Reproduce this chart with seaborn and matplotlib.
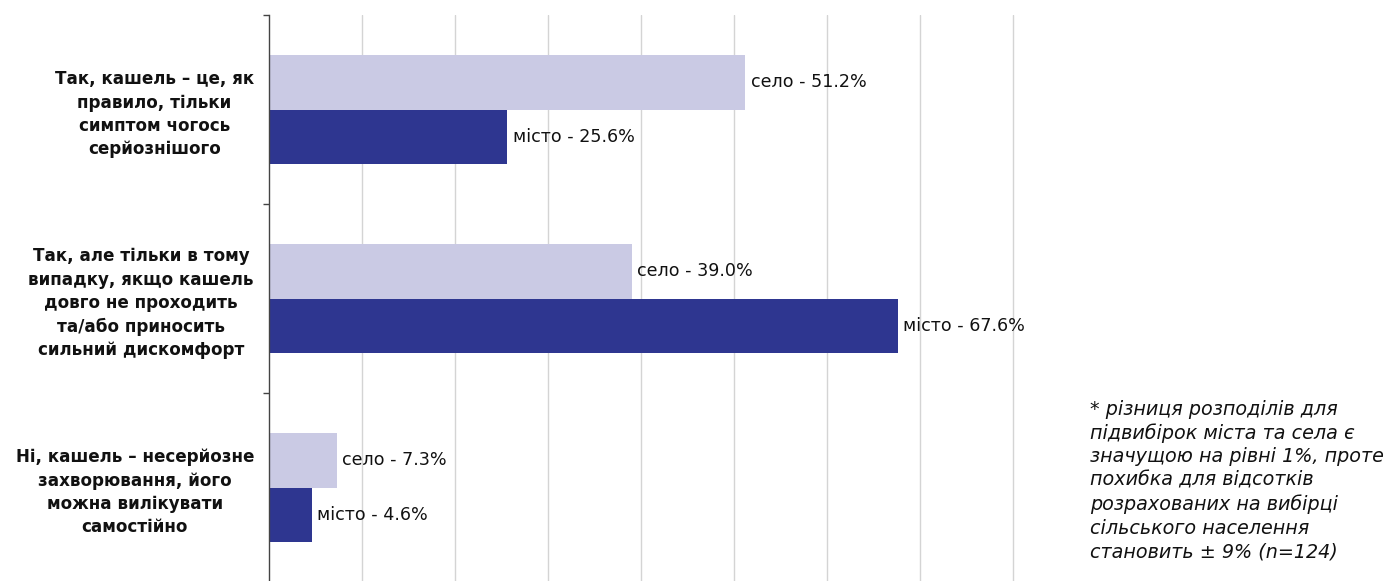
import matplotlib
matplotlib.use("Agg")
import matplotlib.pyplot as plt
import seaborn as sns
import pandas as pd
import numpy as np
from matplotlib.ticker import FixedLocator

# Survey answers: is a cough a sign of something more serious?
categories = [
    "Так, кашель – це, як\nправило, тільки\nсимптом чогось\nсерйознішого",
    "Так, але тільки в тому\nвипадку, якщо кашель\nдовго не проходить\nта/або приносить\nсильний дискомфорт",
    "Ні, кашель – несерйозне\nзахворювання, його\nможна вилікувати\nсамостійно",
]
groups = ["село", "місто"]
village = [51.2, 39.0, 7.3]
city = [25.6, 67.6, 4.6]
footnote = ("* різниця розподілів для\nпідвибірок міста та села є\n"
            "значущою на рівні 1%, проте\nпохибка для відсотків\n"
            "розрахованих на вибірці\nсільського населення\n"
            "становить ± 9% (n=124)")

df = pd.DataFrame({
    "category": categories * 2,
    "group": [groups[0]] * 3 + [groups[1]] * 3,
    "value": village + city,
})

sns.set_theme(style="white")
plt.rcParams["font.family"] = ["DejaVu Sans"]

fig = plt.figure(figsize=(13.88, 5.81), dpi=100)
# 9.3 px per percentage point, x range 0..81
ax = fig.add_axes([269 / 1388, -1 / 581, (81 * 9.3) / 1388, (582 - 15) / 581])

palette = {"село": "#CACAE4", "місто": "#2E3690"}
sns.barplot(data=df, y="category", x="value", hue="group", order=categories,
            hue_order=groups, palette=palette, orient="h", width=0.58,
            saturation=1, linewidth=0, ax=ax, legend=False)

for cont, name, vals in zip(ax.containers, groups, [village, city]):
    ax.bar_label(cont, labels=[f"{name} - {v:.1f}%" for v in vals],
                 padding=4, fontsize=12.6, color="#111111", clip_on=False)

ax.set_xlim(0, 81)
ax.set_ylim(2.5, -0.5)
ax.set_xticks(np.arange(10, 81, 10))
ax.tick_params(axis="x", length=0, labelbottom=False)
ax.grid(axis="x", color="#D4D4D4", linewidth=1)
ax.set_axisbelow(True)

# boundaries as major ticks, category names on minor ticks
ax.yaxis.set_major_locator(FixedLocator([-0.5, 0.5, 1.5, 2.5]))
ax.yaxis.set_minor_locator(FixedLocator([0, 1, 2]))
ax.set_yticklabels([], minor=False)
ax.set_yticklabels(categories, minor=True, fontsize=12.1, fontweight="bold",
                   multialignment="center", linespacing=1.39, color="#111111")
ax.tick_params(axis="y", which="major", length=4, width=1, color="#444444",
               direction="out", left=True)
ax.tick_params(axis="y", which="minor", length=0, pad=10.8)
ax.set_xlabel("")
ax.set_ylabel("")

for s in ["top", "right", "bottom"]:
    ax.spines[s].set_visible(False)
ax.spines["left"].set_color("#444444")
ax.spines["left"].set_linewidth(1)

fig.text(1090 / 1388, 1 - 480.5 / 581, footnote, ha="left", va="center",
         fontsize=13.75, style="italic", linespacing=1.30, color="#111111")

fig.savefig("out.png", dpi=100, facecolor="white")
